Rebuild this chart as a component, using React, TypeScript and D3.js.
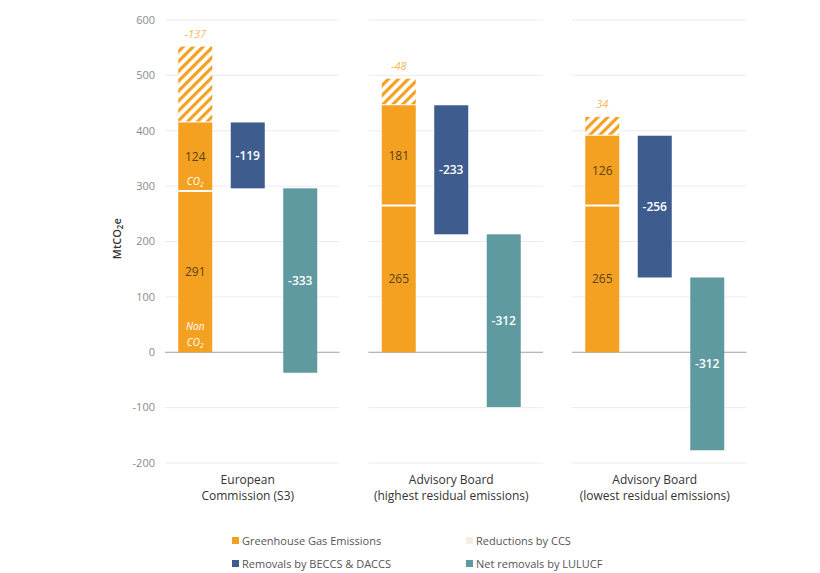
import React from "react";
import * as d3 from "d3";

const categories = [
  ["European", "Commission (S3)"],
  ["Advisory Board", "(highest residual emissions)"],
  ["Advisory Board", "(lowest residual emissions)"],
];
const nonCO2 = [291, 265, 265];
const co2 = [124, 181, 126];
const ccsReductions = [137, 48, 34];
const ccsLabels = ["-137", "-48", "34"];
const beccsRemovals = [-119, -233, -256];
const lulucfRemovals = [-333, -312, -312];
const yTicks = [-200, -100, 0, 100, 200, 300, 400, 500, 600];
const legendItems = [
  { label: "Greenhouse Gas Emissions", color: "#F4A021" },
  { label: "Reductions by CCS", color: "#F8EEDF" },
  { label: "Removals by BECCS & DACCS", color: "#3E5C8E" },
  { label: "Net removals by LULUCF", color: "#5E9AA0" },
];

const ORANGE = "#F4A021";
const BLUE = "#3E5C8E";
const TEAL = "#5E9AA0";
const FONT = "'Open Sans', 'Noto Sans', sans-serif";

export default function App() {
  const W = 820, H = 573;
  const y = d3.scaleLinear().domain([-200, 600]).range([463, 20]);
  const gx = d3.scaleBand<number>().domain([0, 1, 2]).range([146, 756.5]).padding(0);
  const inner = d3.scalePoint<string>().domain(["ghg", "beccs", "lulucf"]).range([-52.5, 52.5]);
  const bw = 34;

  return (
    <svg width={W} height={H} style={{ position: "absolute", left: 0, top: 0, background: "#fff" }} fontFamily={FONT}>
      <defs>
        <pattern id="hatch" patternUnits="userSpaceOnUse" width="7" height="7" patternTransform="rotate(45)">
          <rect width="7" height="7" fill="#fff" />
          <rect width="3.2" height="7" fill={ORANGE} />
        </pattern>
      </defs>

      {/* y axis labels */}
      {yTicks.map((t) => (
        <text key={t} x={155} y={y(t)} dy="0.35em" textAnchor="end" fontSize={11} fill="#8a8a8a">
          {t}
        </text>
      ))}
      <text transform={`translate(121,${y(205)}) rotate(-90)`} textAnchor="middle" fontSize={11} fill="#333" fontWeight={600}>
        MtCO<tspan fontSize={8} dy={2}>2</tspan><tspan dy={-2}>e</tspan>
      </text>

      {categories.map((cat, i) => {
        const g0 = gx(i)!;
        const cx = g0 + gx.bandwidth() / 2;
        const x1 = g0 + 19, x2 = g0 + gx.bandwidth() - 10;
        const xo = cx + inner("ghg")! - bw / 2;
        const xb = cx + inner("beccs")! - bw / 2;
        const xt = cx + inner("lulucf")! - bw / 2;
        const top1 = nonCO2[i];
        const top2 = nonCO2[i] + co2[i];
        const top3 = top2 + ccsReductions[i];
        const bEnd = top2 + beccsRemovals[i];
        const tEnd = bEnd + lulucfRemovals[i];
        return (
          <g key={i}>
            {yTicks.filter((t) => t !== 0).map((t) => (
              <line key={t} x1={x1} x2={x2} y1={y(t)} y2={y(t)} stroke="#ececec" strokeWidth={1} />
            ))}
            <line x1={x1} x2={x2} y1={y(0)} y2={y(0)} stroke="#a0a0a0" strokeWidth={1} />

            {/* GHG stack */}
            <rect x={xo} width={bw} y={y(top1)} height={y(0) - y(top1)} fill={ORANGE} />
            <rect x={xo} width={bw} y={y(top2)} height={y(top1) - y(top2)} fill={ORANGE} />
            <line x1={xo} x2={xo + bw} y1={y(top1)} y2={y(top1)} stroke="#fff" strokeWidth={2} />
            <rect x={xo} width={bw} y={y(top3)} height={y(top2) - y(top3) - 1} fill="url(#hatch)" />
            <text x={cx + inner("ghg")!} y={y(top3) - 9} textAnchor="middle" fontSize={11} fontStyle="italic" fill="#F7B860">
              {ccsLabels[i]}
            </text>
            <text x={cx + inner("ghg")!} y={y((top1 + top2) / 2)} dy="0.35em" textAnchor="middle" fontSize={12} fill="#5a4220">
              {co2[i]}
            </text>
            <text x={cx + inner("ghg")!} y={y(top1 / 2)} dy="0.35em" textAnchor="middle" fontSize={12} fill="#5a4220">
              {nonCO2[i]}
            </text>
            {i === 0 && (
              <g fontSize={10} fontStyle="italic" fill="#fff" textAnchor="middle">
                <text x={cx + inner("ghg")!} y={y(top1) - 6}>CO<tspan fontSize={7} dy={2}>2</tspan></text>
                <text x={cx + inner("ghg")!} y={y(0) - 22}>Non</text>
                <text x={cx + inner("ghg")!} y={y(0) - 6}>CO<tspan fontSize={7} dy={2}>2</tspan></text>
              </g>
            )}

            {/* BECCS */}
            <rect x={xb} width={bw} y={y(top2)} height={y(bEnd) - y(top2)} fill={BLUE} />
            <text x={cx + inner("beccs")!} y={y((top2 + bEnd) / 2)} dy="0.35em" textAnchor="middle" fontSize={12} fill="#fff" fontWeight={600}>
              {beccsRemovals[i]}
            </text>

            {/* LULUCF */}
            <rect x={xt} width={bw} y={y(bEnd)} height={y(tEnd) - y(bEnd)} fill={TEAL} />
            <text x={cx + inner("lulucf")!} y={y((bEnd + tEnd) / 2)} dy="0.35em" textAnchor="middle" fontSize={12} fill="#fff" fontWeight={600}>
              {lulucfRemovals[i]}
            </text>

            {/* category label */}
            <text x={cx} y={484} textAnchor="middle" fontSize={12} fill="#333">
              <tspan x={cx}>{cat[0]}</tspan>
              <tspan x={cx} dy={16}>{cat[1]}</tspan>
            </text>
          </g>
        );
      })}

      {/* legend */}
      {legendItems.map((it, k) => {
        const col = k % 2, row = Math.floor(k / 2);
        const lx = col === 0 ? 232 : 466;
        const ly = 541 + row * 23;
        return (
          <g key={it.label}>
            <rect x={lx} y={ly - 4} width={7} height={7} fill={it.color} />
            <text x={lx + 10} y={ly} dy="0.35em" fontSize={11} fill="#555">
              {it.label}
            </text>
          </g>
        );
      })}
    </svg>
  );
}
